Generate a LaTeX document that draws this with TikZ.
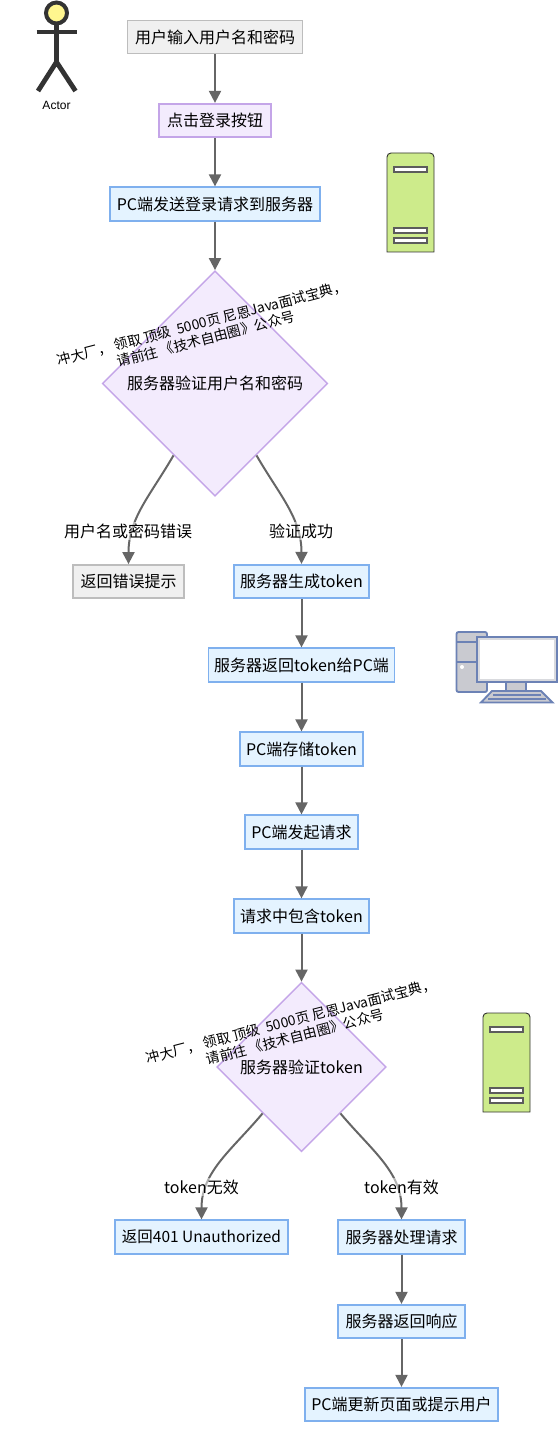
\documentclass[tikz,border=0pt]{standalone}
\usepackage{fontspec}
\setmainfont{Noto Sans CJK SC}
\newfontfamily\actorfont{Liberation Sans}
\usetikzlibrary{arrows.meta,shapes.geometric}
\definecolor{ink}{HTML}{666666}
\definecolor{graybox}{HTML}{F0F0F0}
\definecolor{grayline}{HTML}{BDBDBD}
\definecolor{purplebox}{HTML}{F3EBFD}
\definecolor{purpleline}{HTML}{C4A5E8}
\definecolor{bluebox}{HTML}{E4F3FF}
\definecolor{blueline}{HTML}{7FB0EE}
\definecolor{servergreen}{HTML}{CDEB8B}
\definecolor{pcblue}{HTML}{6C82B5}
\definecolor{pcgray}{HTML}{C9CAD0}
\definecolor{figure}{HTML}{333333}
\definecolor{headyellow}{HTML}{FFF68F}

\begin{document}
\begin{tikzpicture}[x=.75pt,y=-.75pt,>={Triangle[width=9pt,length=9pt]},
      plain/.style={draw=grayline,fill=graybox,line width=1.1pt,minimum height=25pt,
                    inner sep=0pt,font=\fontsize{12}{14}\selectfont},
      press/.style={plain,draw=purpleline,fill=purplebox,line width=1.4pt},
      stage/.style={plain,draw=blueline,fill=bluebox,line width=1.4pt},
      check/.style={diamond,aspect=1,draw=purpleline,fill=purplebox,line width=1.1pt,
                    inner sep=0pt,font=\fontsize{12}{14}\selectfont},
      branch/.style={fill=white,fill opacity=.5,text opacity=1,inner sep=1pt,
                    font=\fontsize{12}{14}\selectfont},
      promo/.style={rotate=14.5,align=center,inner sep=0pt,
                    font=\fontsize{10.4}{12.2}\selectfont},
      flow/.style={->,line width=1.5pt,draw=ink},
      serverpic/.pic={
        \draw[draw=figure,fill=servergreen,line width=.7pt] (0,99) [rounded corners=3pt] -- (0,0) -- (47,0) [sharp corners] -- (47,99) -- cycle;
        \foreach \slot in {14,75,85}
          \draw[draw=figure!80,fill=white,line width=.8pt] (7,\slot) rectangle (40,\slot+5);
      }]
    \useasboundingbox (0,0) rectangle (558,1430);

    \draw[draw=figure,fill=headyellow,line width=3pt] (56.5,13) circle (10.5);
    \draw[figure,line width=3.6pt] (36.5,32) -- (76.5,32);
    \draw[figure,line width=3.6pt] (56.5,24) -- (56.5,62);
    \draw[figure,line width=3.6pt] (38,91) -- (56.5,62) -- (75.5,91);
    \node[inner sep=0pt,font=\actorfont\fontsize{9}{11}\selectfont] (actor) at (56.5,105.5) {Actor};

    \pic at (387,153) {serverpic};
    \pic at (483,1013) {serverpic};

    \draw[draw=pcblue,fill=pcgray,line width=1.4pt,rounded corners=1.5pt] (456.5,632) rectangle (487,692);
    \draw[draw=pcblue,line width=1.4pt] (456.5,642) -- (487,642);
    \draw[draw=pcblue,line width=1.4pt] (456.5,662) -- (487,662);
    \fill[white] (462,667) circle (2);
    \draw[draw=pcblue,fill=pcgray,line width=1.4pt] (506,682) rectangle (526,691);
    \draw[draw=pcblue,fill=pcgray,line width=1.4pt] (492,691) -- (541,691) -- (552.5,702.5) -- (481,702.5) -- cycle;
    \draw[draw=pcblue,line width=.8pt] (493,695) -- (541,695);
    \draw[draw=pcblue,line width=.8pt] (488,699) -- (546,699);
    \draw[draw=pcblue,fill=pcgray!70,line width=1.4pt] (477,637) rectangle (557,682);
    \fill[white] (480,640) rectangle (554,679);

    \node[plain,minimum width=131pt] (input) at (215,37) {用户输入用户名和密码};
    \node[press,minimum width=84pt] (click) at (215,120.5) {点击登录按钮};
    \node[stage,minimum width=157.5pt] (send) at (215,204) {PC端发送登录请求到服务器};
    \node[check,minimum size=169pt] (verify) at (215,383.5) {服务器验证用户名和密码};
    \node[plain,minimum width=83pt] (wrong) at (128.5,581.5) {返回错误提示};
    \node[stage,minimum width=101pt] (token) at (301.5,581.5) {服务器生成token};
    \node[stage,minimum width=139.5pt] (give) at (301.5,665) {服务器返回token给PC端};
    \node[stage,minimum width=92pt] (store) at (301.5,749) {PC端存储token};
    \node[stage,minimum width=85pt] (ask) at (301.5,832) {PC端发起请求};
    \node[stage,minimum width=101pt] (carry) at (301.5,916) {请求中包含token};
    \node[check,minimum size=127pt] (tokencheck) at (301.5,1067) {服务器验证token};
    \node[stage,minimum width=129.5pt,font=\fontsize{11.6}{14}\selectfont] (denied) at (201.5,1237) {返回401 Unauthorized};
    \node[stage,minimum width=95pt] (work) at (401.5,1237) {服务器处理请求};
    \node[stage,minimum width=95pt] (reply) at (401.5,1321.5) {服务器返回响应};
    \node[stage,minimum width=145pt] (update) at (401.5,1404.5) {PC端更新页面或提示用户};

    \draw[flow] (input) -- (click);
    \draw[flow] (click) -- (send);
    \draw[flow] (send) -- (verify);
    \draw[flow] (verify.-120) to[out=-120,in=90] (wrong.north);
    \draw[flow] (verify.-60) to[out=-60,in=90] (token.north);
    \draw[flow] (token) -- (give);
    \draw[flow] (give) -- (store);
    \draw[flow] (store) -- (ask);
    \draw[flow] (ask) -- (carry);
    \draw[flow] (carry) -- (tokencheck);
    \draw[flow] (tokencheck.-130) to[out=-130,in=90] (denied.north);
    \draw[flow] (tokencheck.-50) to[out=-50,in=90] (work.north);
    \draw[flow] (work) -- (reply);
    \draw[flow] (reply) -- (update);

    \node[branch] (wronglabel) at (128,531) {用户名或密码错误};
    \node[branch] (oklabel) at (301,531) {验证成功};
    \node[branch] (badlabel) at (201.5,1187) {token无效};
    \node[branch] (goodlabel) at (401.5,1187) {token有效};
    \node[promo] (promoone) at (204,331) {冲大厂， 领取 顶级 \ 5000页 尼恩Java面试宝典，\\请前往 《技术自由圈》公众号};
    \node[promo] (promotwo) at (293,1029) {冲大厂， 领取 顶级 \ 5000页 尼恩Java面试宝典，\\请前往 《技术自由圈》公众号};
    \end{tikzpicture}
\end{document}
